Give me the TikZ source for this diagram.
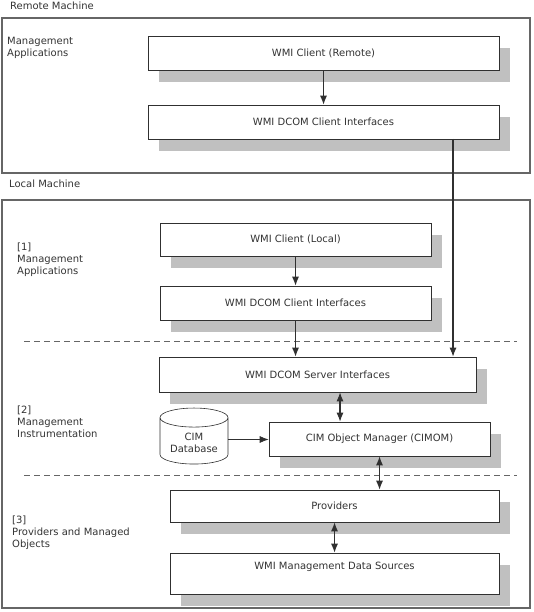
\documentclass[tikz,border=0pt]{standalone}
\usepackage{xcolor}
\usepackage{fontspec}
\setmainfont{DejaVu Sans}
\usepackage{tikz}
\usetikzlibrary{positioning,calc,shapes,shapes.geometric,arrows.meta,shadows}
\definecolor{txtgray}{HTML}{333333}
\definecolor{linegray}{HTML}{303030}
\definecolor{shadowgray}{HTML}{C0C0C0}
\definecolor{framegray}{HTML}{666666}
\tikzset{
  basic/.style  = {draw=linegray, fill=white, rectangle, semithick, align=center,
                   text=txtgray, font=\fontsize{10}{12}\selectfont,
                   drop shadow={shadow xshift=11pt, shadow yshift=-12pt,
                   fill=shadowgray, opacity=1}},
  layer/.style  = {align=left, anchor=north west, inner sep=0pt, text=txtgray,
                   font=\fontsize{10}{12}\selectfont},
  frame/.style  = {draw=framegray, line width=1.2pt},
  sep/.style    = {draw=framegray, thick, dash pattern=on 6pt off 4pt},
  post/.style   = {-{Latex[length=9pt,width=7pt]}, draw=linegray, line width=1.1pt},
  dbl/.style    = {{Latex[length=9pt,width=7pt]}-{Latex[length=9pt,width=7pt]},
                   draw=linegray, line width=1.1pt},
  db/.style     = {draw=linegray, semithick, fill=white, cylinder, shape border rotate=90,
                   aspect=0.35, minimum width=68pt, minimum height=56pt,
                   align=center, text=txtgray, font=\fontsize{10}{12}\selectfont}
}

\begin{document}
\begin{tikzpicture}[x=1pt, y=-1pt]
  \useasboundingbox (0,0) rectangle (533,612);
  \draw[frame] (2,18) rectangle (530,173);
  \draw[frame] (2,200) rectangle (530,608);
  \node[layer] (remote) at (10,2)   {Remote Machine};
  \node[layer] (mgmtr)  at (7,37)   {Management\\Applications};
  \node[layer] (local)  at (9,180)  {Local Machine};
  \node[layer] (lay1)   at (17,243) {[1]\\Management\\Applications};
  \node[layer] (lay2)   at (17,406) {[2]\\Management\\Instrumentation};
  \node[layer] (lay3)   at (12,516) {[3]\\Providers and Managed\\Objects};
  \draw[sep] (24,341) -- (517,341);
  \draw[sep] (24,475) -- (517,475);

  \node[basic, minimum width=351pt, minimum height=34pt] (rclient) at (323.5,53)  {WMI Client (Remote)};
  \node[basic, minimum width=351pt, minimum height=34pt] (rdcom)   at (323.5,122) {WMI DCOM Client Interfaces};
  \node[basic, minimum width=271pt, minimum height=33pt] (lclient) at (295.5,239.5) {WMI Client (Local)};
  \node[basic, minimum width=271pt, minimum height=34pt] (ldcom)   at (295.5,303) {WMI DCOM Client Interfaces};
  \node[basic, minimum width=317pt, minimum height=35pt] (server)  at (317.5,374.5) {WMI DCOM Server Interfaces};
  \node[basic, minimum width=221pt, minimum height=34pt] (cimom)   at (379.5,439) {CIM Object Manager (CIMOM)};
  \node[db] (cimdb) at (194,443) {CIM\\Database};
  \node[basic, minimum width=329pt, minimum height=32pt] (prov)    at (334.5,506) {Providers};
  \node[basic, minimum width=329pt, minimum height=41pt] (data)    at (334.5,573.5) {\raisebox{15pt}{WMI Management Data Sources}};
  \coordinate (rout) at (453,139);

  \draw[post] (rclient) -- (rdcom);
  \draw[post] (lclient) -- (ldcom);
  \draw[post] (ldcom.south) -- (ldcom.south |- server.north);
  \draw[post] (rout) -- (rout |- server.north);
  \draw[dbl] ([xshift=-39.5pt]cimom.north) -- ([xshift=-39.5pt]cimom.north |- server.south);
  \draw[post, line width=0.8pt] ([yshift=3.5pt]cimdb.east) -- ([yshift=3.5pt]cimdb.east -| cimom.west);
  \draw[dbl] (cimom.south) -- (cimom.south |- prov.north);
  \draw[dbl] (prov) -- (data);
\end{tikzpicture}
\end{document}
